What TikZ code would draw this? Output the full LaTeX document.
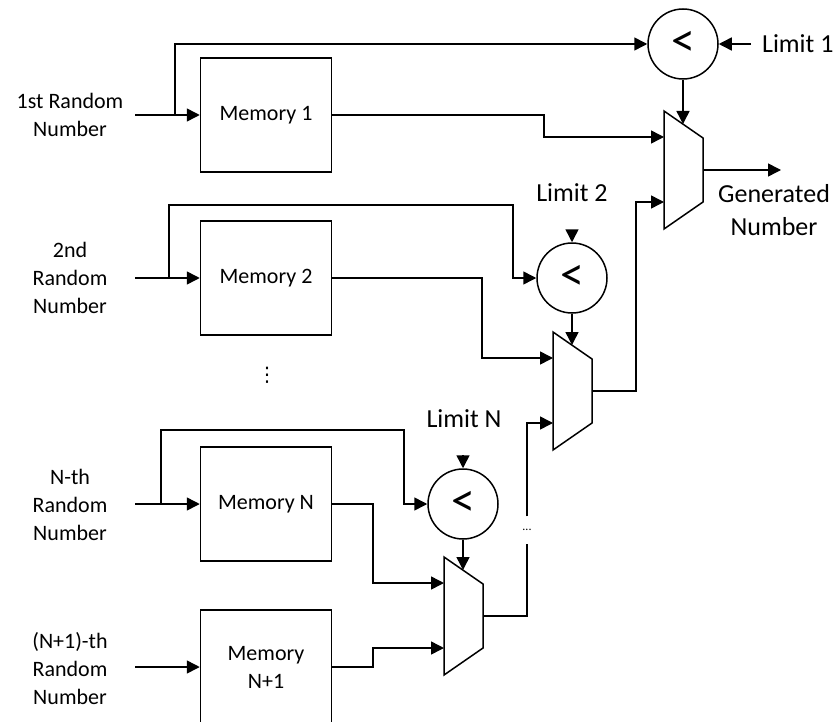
\documentclass[tikz,border=0pt]{standalone}
\usepackage{fontspec}
\setmainfont{Carlito}
\newfontfamily\symfont{DejaVu Sans}
\usetikzlibrary{arrows.meta,positioning}

\begin{document}
\begin{tikzpicture}[
    x=1pt, y=-1pt,
    line width=1.5pt,
    mem/.style={rectangle, draw, minimum width=131pt, minimum height=114pt,
                inner sep=0pt, align=center, font=\fontsize{22}{28}\selectfont},
    cmp/.style={circle, draw, minimum size=70pt, inner sep=0pt,
                font=\fontsize{48}{48}\selectfont},
    lbl/.style={align=center, font=\fontsize{22}{28}\selectfont},
    big/.style={align=center, font=\fontsize{26}{33}\selectfont},
    arr/.style={-{Triangle[length=13pt,width=13pt]}},
    mux/.pic={
        \draw (0,0) -- (39,27) -- (39,91) -- (0,118) -- cycle;
        \coordinate (-in1) at (0,26);
        \coordinate (-in2) at (0,91);
        \coordinate (-out) at (39,59);
        \coordinate (-sel) at (19,13);
    }
]
\useasboundingbox (0,0) rectangle (837,722);

% inputs and memories
\node[lbl] (in1) at (70,115) {1st Random\\Number};
\node[lbl] (in2) at (70,278) {2nd\\Random\\Number};
\node[lbl] (inN) at (70,505) {N-th\\Random\\Number};
\node[lbl] (inN1) at (70,669) {(N+1)-th\\Random\\Number};

\node[mem] (mem1) at (266,115) {Memory 1};
\node[mem] (mem2) at (266,278) {Memory 2};
\node[mem] (memN) at (266,504) {Memory N};
\node[mem] (memN1) at (266,667) {Memory\\N+1};
\node[font=\symfont\fontsize{20}{20}\selectfont] (vdots) at (267,375) {⋮};

\coordinate (s1) at (135,115);
\coordinate (s2) at (135,278);
\coordinate (sN) at (135,504);
\coordinate (sN1) at (135,667);
\coordinate (b1) at (175,115);
\coordinate (b2) at (169,278);
\coordinate (bN) at (161,504);

% comparators
\node[cmp] (cmp1) at (683,44) {<};
\node[cmp] (cmp2) at (572,278) {<};
\node[cmp] (cmpN) at (463,504) {<};

\node[big, anchor=west] (lim1) at (758,44) {Limit 1};
\node[big] (lim2) at (572,193) {Limit 2};
\node[big] (limN) at (464,419) {Limit N};
\coordinate (l1) at (751,44);
\coordinate (l2) at (572,230);
\coordinate (lN) at (463,455);

% multiplexers
\pic (m1) at (664,111) {mux};
\pic (m2) at (553,332) {mux};
\pic (mN) at (444,557) {mux};

\node[big] (gen) at (774,210) {Generated\\Number};
\coordinate (gout) at (781,170);
\node[font=\fontsize{12}{12}\selectfont, minimum height=26pt, inner sep=0pt] (hdots) at (527,530) {...};

\draw[arr] (s1) -- (mem1);
\draw[arr] (s2) -- (mem2);
\draw[arr] (sN) -- (memN);
\draw[arr] (sN1) -- (memN1);
\draw[arr] (b1) |- (cmp1.west);
\draw[arr] (b2) |- (513,205) |- (cmp2.west);
\draw[arr] (bN) |- (404,430) |- (cmpN.west);

\draw[arr] (l1) -- (cmp1.east);
\draw[arr] (l2) -- (cmp2.north);
\draw[arr] (lN) -- (cmpN.north);

\draw[arr] (cmp1.south) -- (m1-sel);
\draw[arr] (cmp2.south) -- (m2-sel);
\draw[arr] (cmpN.south) -- (mN-sel);

\draw[arr] (mem1.east) -- (544,115) |- (m1-in1);
\draw[arr] (mem2.east) -- (482,278) |- (m2-in1);
\draw[arr] (memN.east) -- (373,504) |- (mN-in1);
\draw[arr] (memN1.east) -- (373,667) |- (mN-in2);

\draw (mN-out) -| (hdots.south);
\draw[arr] (hdots.north) |- (m2-in2);
\draw[arr] (m2-out) -- (636,391) |- (m1-in2);
\draw[arr] (m1-out) -- (gout);
\end{tikzpicture}
\end{document}
